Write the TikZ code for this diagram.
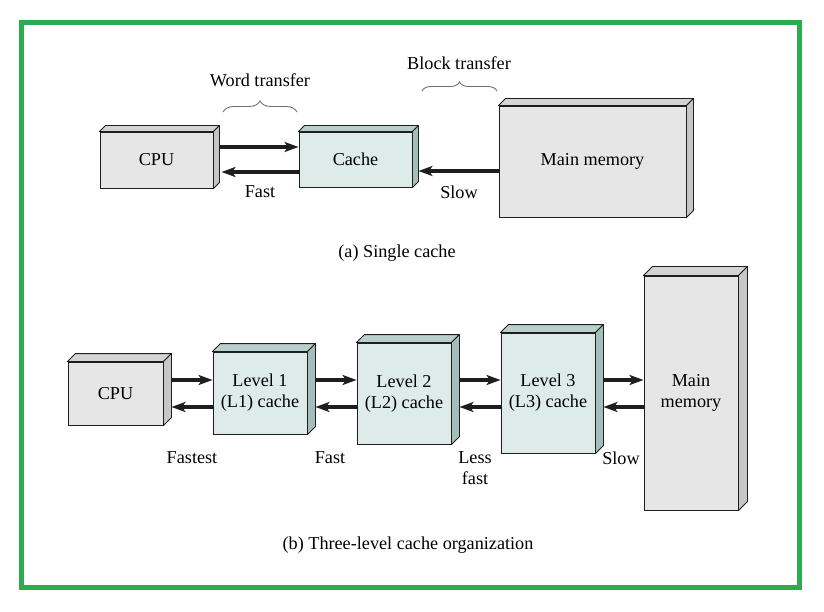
\documentclass[tikz,border=0pt]{standalone}
\usepackage{fontspec}
\setmainfont{Liberation Serif}
\usetikzlibrary{arrows.meta,decorations.pathreplacing}
\definecolor{edge}{HTML}{1E1E1E}
\definecolor{grayfront}{HTML}{E6E6E6}
\definecolor{grayside}{HTML}{C6C6C6}
\definecolor{graytop}{HTML}{D4D4D4}
\definecolor{cachefront}{HTML}{DDEBE9}
\definecolor{cacheside}{HTML}{A4BFBB}
\definecolor{cachetop}{HTML}{B8CFCB}
\definecolor{frame}{HTML}{2EAB4F}
\definecolor{bracecol}{HTML}{707070}
\newcommand{\fsz}{\fontsize{18.2}{21}\selectfont}
% node name, depth, top colour, side colour
\newcommand{\boxfaces}[4]{%
  \filldraw[fill=#3,draw=edge,line width=0.9pt,line join=round]
    (#1.north west) -- ([shift={(#2,-#2)}]#1.north west) -- ([shift={(#2,-#2)}]#1.north east) -- (#1.north east) -- cycle;
  \filldraw[fill=#4,draw=edge,line width=0.9pt,line join=round]
    (#1.north east) -- ([shift={(#2,-#2)}]#1.north east) -- ([shift={(#2,-#2)}]#1.south east) -- (#1.south east) -- cycle;
}
\tikzset{
  every node/.style={font=\fsz},
  unitbox/.style={draw=edge,line width=0.9pt,inner sep=0pt,align=center},
  graybox/.style={unitbox,fill=grayfront},
  cachebox/.style={unitbox,fill=cachefront},
  arr/.style={line width=4pt,draw=edge,-{Stealth[length=14pt,width=10pt,inset=3.5pt]}},
  brc/.style={draw=bracecol,line width=0.9pt,decorate},
  lbl/.style={inner sep=0pt,align=center}
}
\begin{document}
\begin{tikzpicture}[x=1pt,y=-1pt]
\useasboundingbox (0,0) rectangle (824,612);
\fill[white] (0,0) rectangle (824,612);
\draw[frame,line width=5pt] (21.5,22.5) rectangle (799.5,587.5);

% ---- (a) single cache ----
\node[graybox,minimum width=113pt,minimum height=56pt] (cpua) at (156.5,160) {CPU};
\node[cachebox,minimum width=113pt,minimum height=55pt] (cachea) at (355.5,159.5) {Cache};
\node[graybox,minimum width=187pt,minimum height=111pt] (mema) at (592.5,161.5) {Main memory};
\boxfaces{cpua}{6}{graytop}{grayside}
\boxfaces{cachea}{6}{cachetop}{cacheside}
\boxfaces{mema}{7}{graytop}{grayside}

\coordinate (ya1) at (0,147);
\coordinate (ya2) at (0,172);
\coordinate (ya3) at (0,171);
\draw[arr] ([xshift=6pt]cpua.east |- ya1) -- (cachea.west |- ya1);
\draw[arr] (cachea.west |- ya2) -- ([xshift=8pt]cpua.east |- ya2);
\draw[arr] (mema.west |- ya3) -- ([xshift=6pt]cachea.east |- ya3);

\draw[brc,decoration={brace,amplitude=11pt}] (223,112) -- (297,112);
\draw[brc,decoration={brace,amplitude=9pt}] (422,91) -- (497,91);
\node[lbl] (wt) at (260,80) {Word transfer};
\node[lbl] (bt) at (459,63) {Block transfer};
\node[lbl] (fa) at (260,192) {Fast};
\node[lbl] (sa) at (459,192) {Slow};
\node[lbl] (capa) at (397,253) {(a) Single cache};

% ---- (b) three-level ----
\node[graybox,minimum width=95pt,minimum height=63pt] (cpub) at (115.5,393.5) {CPU};
\node[cachebox,minimum width=94pt,minimum height=82pt] (l1) at (260,393) {Level 1\\(L1) cache};
\node[cachebox,minimum width=94pt,minimum height=101pt] (l2) at (404,393.5) {Level 2\\(L2) cache};
\node[cachebox,minimum width=94pt,minimum height=120pt] (l3) at (548,393) {Level 3\\(L3) cache};
\node[graybox,minimum width=94pt,minimum height=234pt] (memb) at (691,393) {Main\\memory};
\boxfaces{cpub}{8}{graytop}{grayside}
\boxfaces{l1}{8}{cachetop}{cacheside}
\boxfaces{l2}{8}{cachetop}{cacheside}
\boxfaces{l3}{8}{cachetop}{cacheside}
\boxfaces{memb}{9}{graytop}{grayside}

\coordinate (yb1) at (0,380);
\coordinate (yb2) at (0,407);
\foreach \a/\b in {cpub/l1,l1/l2,l2/l3,l3/memb}{
  \draw[arr] ([xshift=8pt]\a.east |- yb1) -- (\b.west |- yb1);
  \draw[arr] (\b.west |- yb2) -- ([xshift=8pt]\a.east |- yb2);
}

\node[lbl] (f1) at (192,458) {Fastest};
\node[lbl] (f2) at (330,458) {Fast};
\node[lbl] (f3) at (475,468) {Less\\fast};
\node[lbl] (f4) at (621,458) {Slow};
\node[lbl] (capb) at (408,545) {(b) Three-level cache organization};
\end{tikzpicture}
\end{document}
